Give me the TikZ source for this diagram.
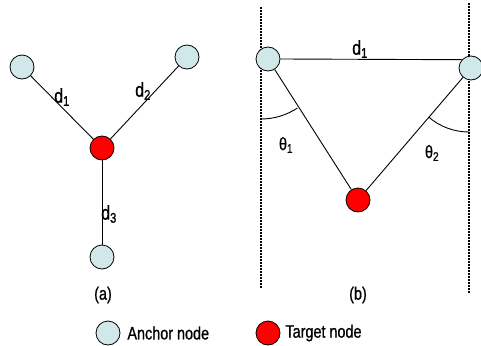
\documentclass[tikz,border=0pt]{standalone}
\usepackage{fontspec}
\usepackage{graphicx}
\setmainfont{Liberation Sans}[FakeBold=0.9]
\usetikzlibrary{calc}
\definecolor{anchorfill}{RGB}{208,232,234}
\newcommand{\narrowtxt}[1]{\scalebox{0.8}[1]{#1}}
\tikzstyle{anchornode}=[circle, minimum size=24pt, inner sep=0, draw=black, line width=0.8pt, fill=anchorfill]
\tikzstyle{targetnode}=[circle, minimum size=24pt, inner sep=0, draw=black, line width=0.8pt, fill=red]
\tikzstyle{bound}=[line width=1.4pt, dash pattern=on 2pt off 1pt]
\tikzstyle{dlabel}=[font=\fontsize{20}{22}\selectfont]

\begin{document}
\begin{tikzpicture}[x=1pt, y=1pt, line width=0.9pt, font=\fontsize{18}{20}\selectfont]

\useasboundingbox (0, 0) rectangle (481, -345);

% (a)
\node [anchornode] (A1) at ( 22,  -67) {};
\node [anchornode] (A2) at (187,  -57) {};
\node [anchornode] (A3) at (102, -257) {};
\node [targetnode] (T)  at (102, -148) {};

\draw (A1) -- (T);
\draw (A2) -- (T);
\draw (A3) -- (T);

\node [dlabel] (da1) at ( 62,  -97) {\narrowtxt{d\textsubscript{1}}};
\node [dlabel] (da2) at (143,  -91) {\narrowtxt{d\textsubscript{2}}};
\node [dlabel] (da3) at (109, -214) {\narrowtxt{d\textsubscript{3}}};

\node (la) at (103, -295) {\narrowtxt{(a)}};

% (b)
\coordinate (Lt) at (261,   -7);
\coordinate (Lb) at (261, -288);
\coordinate (Rt) at (469,   -3);
\coordinate (Rb) at (469, -293);
\draw [bound] (Lt) -- (Lb);
\draw [bound] (Rt) -- (Rb);

\node [anchornode] (B1) at (268,  -59) {};
\node [anchornode] (B2) at (471,  -68) {};
\node [targetnode] (TB) at (358, -200) {};

\draw (B1.east) -- (B2.138);
\draw (B1) -- (TB);
\draw (B2) -- (TB);

\coordinate (c1) at (261, -53);
\coordinate (c2) at (469, -70);
\draw ($(c1)+(0,-66)$) arc [start angle=270, end angle=303.4, radius=66];
\draw ($(c2)+(229.5:62)$) arc [start angle=229.5, end angle=270, radius=62];

\node [dlabel] (db1) at (360, -49) {\narrowtxt{d\textsubscript{1}}};
\node (th1) at (286, -145) {\narrowtxt{θ\textsubscript{1}}};
\node (th2) at (432, -153) {\narrowtxt{θ\textsubscript{2}}};

\node (lb) at (358, -295) {\narrowtxt{(b)}};

% legend
\node [anchornode] (kA) at (108, -333) {};
\node [anchor=west, inner sep=0] (kAt) at (127, -333) {\narrowtxt{Anchor node}};
\node [targetnode] (kT) at (268, -333) {};
\node [anchor=west, inner sep=0] (kTt) at (285, -333) {\narrowtxt{Target node}};

\end{tikzpicture}
\end{document}
